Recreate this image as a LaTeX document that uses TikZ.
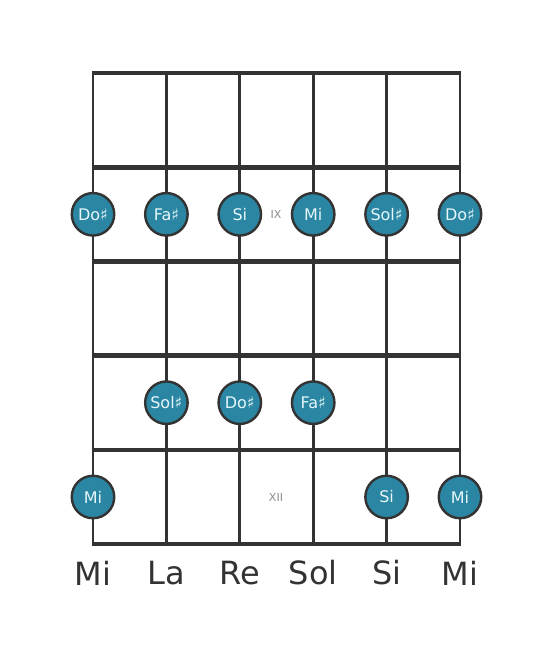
\documentclass[tikz,border=0pt]{standalone}
\usepackage{fontspec}
\setmainfont{DejaVu Sans}
\definecolor{linec}{HTML}{333333}
\definecolor{dotc}{HTML}{2A86A2}
\definecolor{dottext}{HTML}{E6F6FA}
\definecolor{fretlab}{HTML}{8A8A8A}
\begin{document}
\begin{tikzpicture}[x=1pt,y=-1pt,
  stringline/.style={draw=linec,line width=2.8pt},
  fretline/.style={draw=linec,line width=4.6pt},
  notedot/.style={circle,draw=linec,line width=2.4pt,fill=dotc,minimum size=42.5pt,inner sep=0pt,
    text=dottext,font=\fontsize{16}{16}\selectfont},
  fretnum/.style={text=fretlab,font=\fontsize{11}{11}\selectfont},
  strname/.style={text=linec,font=\fontsize{32}{32}\selectfont}]
\useasboundingbox (0,0) rectangle (553,656);
% strings
\foreach \x in {93,166.4,239.8,313.2,386.6,460}
  \draw[stringline] (\x,73) -- (\x,544);
% frets
\foreach \y in {73,167.2,261.4,355.6,449.8,544}
  \draw[fretline] (91.6,\y) -- (461.4,\y);
% fret numbers
\node[fretnum] (ix) at (276,214.3) {IX};
\node[fretnum] (xii) at (276,497) {XII};
% row IX
\node[notedot] (a1) at (93,214.3) {Do♯};
\node[notedot] (a2) at (166.4,214.3) {Fa♯};
\node[notedot] (a3) at (239.8,214.3) {Si};
\node[notedot] (a4) at (313.2,214.3) {Mi};
\node[notedot] (a5) at (386.6,214.3) {Sol♯};
\node[notedot] (a6) at (460,214.3) {Do♯};
% row XI
\node[notedot] (b2) at (166.4,402.7) {Sol♯};
\node[notedot] (b3) at (239.8,402.7) {Do♯};
\node[notedot] (b4) at (313.2,402.7) {Fa♯};
% row XII
\node[notedot] (c1) at (93,497) {Mi};
\node[notedot] (c5) at (386.6,497) {Si};
\node[notedot] (c6) at (460,497) {Mi};
% string names
\node[strname] (s1) at (93,573) {Mi};
\node[strname] (s2) at (166.4,573) {La};
\node[strname] (s3) at (239.8,573) {Re};
\node[strname] (s4) at (313.2,573) {Sol};
\node[strname] (s5) at (386.6,573) {Si};
\node[strname] (s6) at (460,573) {Mi};
\end{tikzpicture}
\end{document}
